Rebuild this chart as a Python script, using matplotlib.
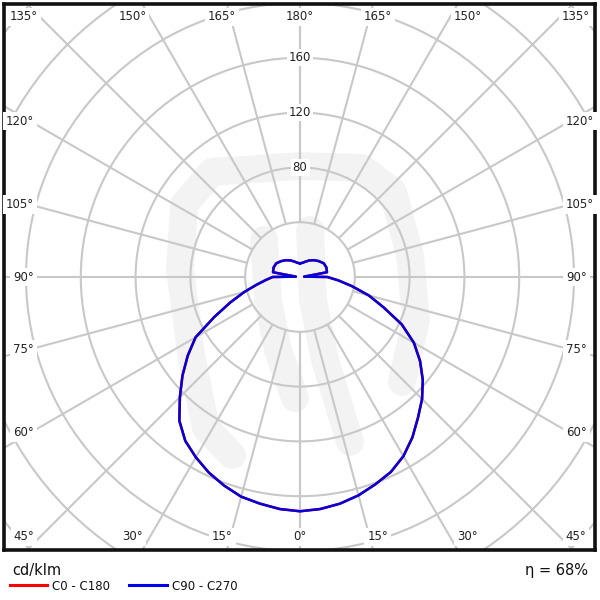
import numpy as np
import matplotlib.pyplot as plt
from matplotlib.patches import Circle

# luminous intensity in cd/klm (gamma from nadir)
gamma = [0, 5, 10, 15, 20, 25, 30, 35, 40, 45, 50, 55, 60, 65, 70, 75, 80, 85,
         90, 95, 100, 110, 120, 130, 140, 150, 160, 170, 180]
i_c90 = [171, 170, 168, 165, 161, 157, 151, 143, 134, 126, 117, 107, 96,
         82, 65, 52, 38.5, 28, 20, 3, 20, 20.5, 20, 18, 16, 14, 12, 10.5, 10]
i_c270 = [171, 170, 168, 166, 162, 157.5, 152, 146, 137, 124, 112, 100, 88,
          69, 54, 42, 32, 25, 20, 3, 20, 20.5, 20, 18, 16, 14, 12, 10.5, 10]
i_c0 = i_c90
i_c180 = i_c270

rings = [40, 80, 120, 160, 200, 240, 280, 320]
ring_labels = [80, 120, 160]
angle_ticks = [0, 15, 30, 45, 60, 75, 90, 105, 120, 135, 150, 165, 180]
eta = 68

K = 1.37            # pixels per cd/klm
GRID = '#c8c8c8'
FS = 8.5


def px(v):
    return v / K


fig = plt.figure(figsize=(6, 6), dpi=100)
ax = fig.add_axes([4 / 600, 50 / 600, 591 / 600, 546 / 600])
ax.set_xlim(px(-296), px(295))
ax.set_ylim(px(-273), px(273))
ax.set_xticks([])
ax.set_yticks([])
for s in ax.spines.values():
    s.set_linewidth(2.6)
    s.set_color('#111111')

# faint watermark logo behind the grid (rough shape, image pixels)
wm_paths = [
    [(232, 455), (206, 428), (192, 360), (180, 270), (184, 205), (212, 172),
     (300, 166), (362, 168), (393, 192), (410, 255), (416, 320), (402, 382)],
    [(264, 240), (268, 300), (278, 350), (295, 398)],
    [(310, 230), (313, 300), (325, 360), (350, 442)],
]
for path in wm_paths:
    xs = [px(p[0] - 300) for p in path]
    ys = [px(277 - p[1]) for p in path]
    ax.plot(xs, ys, color='#f3f3f3', lw=20, zorder=0,
            solid_capstyle='round', solid_joinstyle='round')

# rings
for r in rings:
    ax.add_patch(Circle((0, 0), r, fill=False, ec=GRID, lw=1.5, zorder=1))

# spokes from the first ring outwards
r0, r1 = rings[0], 600
for g in angle_ticks:
    t = np.radians(g)
    for sgn in (1, -1):
        ax.plot([sgn * r0 * np.sin(t), sgn * r1 * np.sin(t)],
                [-r0 * np.cos(t), -r1 * np.cos(t)],
                color=GRID, lw=1.5, zorder=1, solid_capstyle='butt')

# ring values along the 180 spoke
for r in ring_labels:
    ax.text(0, r, str(r), ha='center', va='center', fontsize=FS,
            color='#222222', zorder=3,
            bbox=dict(fc='white', ec='none', pad=1.5))

# angle labels round the frame
box = dict(fc='white', ec='none', pad=2)
for g in angle_ticks:
    t = np.radians(g)
    for sgn in (1, -1):
        if 60 <= g <= 120:
            x = sgn * px(266)
            y = -px(270) / np.tan(t) if g != 90 else 0
            ha = 'right' if sgn < 0 else 'left'
        else:
            ytxt = px(260) if g > 90 else -px(260)
            d = abs(px(290) * np.tan(t))
            x = sgn * min(d, px(276))
            y = ytxt
            ha = 'center'
        if g in (0, 180) and sgn < 0:
            continue
        ax.text(x, y, f'{g}°', ha=ha, va='center', fontsize=FS,
                color='#222222', zorder=3, bbox=box)


def curve(ivals_right, ivals_left):
    t = np.radians(gamma)
    r_right = np.asarray(ivals_right, float)
    r_left = np.asarray(ivals_left, float)
    x = np.concatenate([(-r_left * np.sin(t))[::-1], r_right * np.sin(t)])
    y = np.concatenate([(-r_left * np.cos(t))[::-1], -r_right * np.cos(t)])
    return x, y


x0, y0 = curve(i_c0, i_c180)
ax.plot(x0, y0, color='#ff0000', lw=1.8, zorder=4)
x1, y1 = curve(i_c90, i_c270)
ax.plot(x1, y1, color='#0000dd', lw=1.8, zorder=5)

# footer: unit, legend, efficiency
fig.text(12 / 600, 1 - 571 / 600, 'cd/klm', fontsize=10.5, va='center',
         ha='left', color='#111111')
fig.text(588 / 600, 1 - 571 / 600, f'η = {eta}%', fontsize=10.5,
         va='center', ha='right', color='#111111')
for (xa, xb), col, lab in [((10, 47), '#ff0000', 'C0 - C180'),
                           ((129, 167), '#0000ee', 'C90 - C270')]:
    fig.add_artist(plt.Line2D([xa / 600, xb / 600],
                              [1 - 585 / 600, 1 - 585 / 600],
                              color=col, lw=2.2))
    fig.text((xb + 5) / 600, 1 - 586 / 600, lab, fontsize=FS, va='center',
             ha='left', color='#111111')

fig.savefig('out.png', dpi=100)
